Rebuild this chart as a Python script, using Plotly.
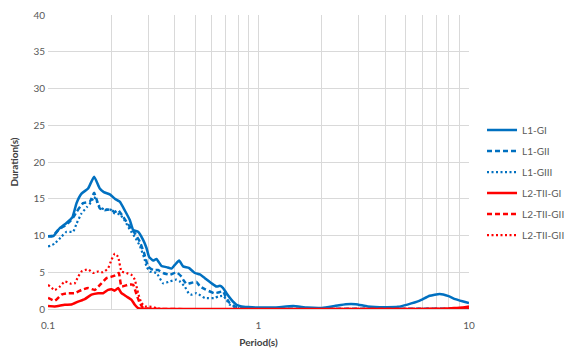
import plotly.graph_objects as go

# ---- data ----
l1_gi_period = [0.1, 0.1057, 0.1138, 0.1224, 0.1307, 0.1366, 0.1443, 0.1551, 0.1656, 0.1762,
                0.1841, 0.1966, 0.2077, 0.2193, 0.2317, 0.2447, 0.2537, 0.2679, 0.283, 0.2937,
                0.3021, 0.3157, 0.3277, 0.3461, 0.3656, 0.3862, 0.4004, 0.4196, 0.4383, 0.4666,
                0.4982, 0.5262, 0.5558, 0.5981, 0.6317, 0.655, 0.679, 0.7047, 0.7443, 0.7862,
                0.8303, 0.8925, 1.0, 1.2, 1.46, 1.7, 2.0, 2.3, 2.6, 2.9, 3.3, 4.0, 4.6, 5.1,
                5.8, 6.5, 7.26, 8.0, 8.6, 9.3, 10.0]
l1_gi_dur = [9.9, 9.9, 11.0, 11.7, 12.5, 14.4, 15.7, 16.4, 18.0, 16.4,
             15.9, 15.6, 15.0, 14.6, 13.4, 12.1, 10.75, 10.5, 9.4, 8.3,
             7.1, 6.6, 6.8, 5.85, 5.7, 5.5, 6.0, 6.6, 5.8, 5.6,
             4.9, 4.7, 4.2, 3.5, 3.05, 3.15, 2.85, 2.15, 1.25, 0.58,
             0.35, 0.27, 0.2, 0.22, 0.4, 0.2, 0.15, 0.4, 0.65, 0.65, 0.35, 0.25, 0.3, 0.6,
             1.1, 1.8, 2.05, 1.75, 1.35, 1.05, 0.8]

l1_gii_period = [0.1, 0.1057, 0.1117, 0.1224, 0.1307, 0.1366, 0.1468, 0.158, 0.1656, 0.1762,
                 0.1861, 0.1966, 0.2077, 0.2153, 0.2274, 0.2447, 0.2584, 0.273, 0.2861, 0.2989,
                 0.3157, 0.3334, 0.3523, 0.3791, 0.4079, 0.4307, 0.4383, 0.455, 0.4717, 0.5076,
                 0.5262, 0.5558, 0.6154, 0.6429, 0.679, 0.697, 0.7306, 0.7716, 0.83, 0.9,
                 1.0, 10.0]
l1_gii_dur = [9.9, 10.0, 10.75, 11.5, 12.3, 13.2, 14.4, 14.6, 15.8, 13.7,
              13.45, 13.55, 13.2, 13.45, 12.55, 11.2, 10.3, 9.15, 7.6, 5.8,
              5.3, 5.3, 4.9, 4.65, 5.0, 4.4, 4.0, 3.4, 3.5, 3.7,
              3.1, 2.7, 2.15, 2.25, 2.4, 1.7, 0.8, 0.35, 0.2, 0.12,
              0.05, 0.05]

l1_giii_period = [0.1, 0.1077, 0.1159, 0.1224, 0.1316, 0.1366, 0.1443, 0.1534, 0.1609, 0.1656,
                  0.1762, 0.1861, 0.1966, 0.2077, 0.2193, 0.2317, 0.2447, 0.2584, 0.273, 0.2861,
                  0.2937, 0.3045, 0.3277, 0.3523, 0.3791, 0.4079, 0.4228, 0.4466, 0.4666, 0.4806,
                  0.5076, 0.5558, 0.6154, 0.6429, 0.679, 0.7047, 0.7306, 0.7574, 0.8, 0.9,
                  1.0, 10.0]
l1_giii_dur = [8.5, 8.9, 9.85, 10.5, 10.5, 11.6, 13.0, 13.9, 14.6, 15.25,
               13.9, 13.5, 13.6, 13.0, 12.9, 12.0, 10.8, 9.8, 8.6, 7.0,
               5.8, 5.1, 4.9, 3.5, 3.75, 4.0, 3.75, 3.05, 2.1, 1.95,
               2.15, 1.5, 1.5, 1.7, 1.8, 1.25, 0.58, 0.35, 0.15, 0.1,
               0.02, 0.02]

l2_gi_period = [0.1, 0.1077, 0.1202, 0.1293, 0.139, 0.1496, 0.1609, 0.173, 0.1827, 0.193,
                0.2003, 0.2077, 0.2153, 0.2235, 0.236, 0.2493, 0.2584, 0.2679, 0.28, 0.3,
                6.0, 7.5, 8.5, 9.3, 10.0]
l2_gi_dur = [0.4, 0.35, 0.58, 0.6, 1.0, 1.35, 1.95, 2.15, 2.15, 2.6,
             2.7, 2.5, 2.85, 2.15, 1.7, 1.25, 0.58, 0.13, 0.02, 0.0,
             0.0, 0.05, 0.12, 0.2, 0.35]

l2_gii_period = [0.1, 0.1077, 0.1159, 0.1246, 0.1341, 0.1443, 0.1551, 0.1669, 0.1795, 0.1896,
                 0.2003, 0.2116, 0.217, 0.2235, 0.2402, 0.2537, 0.2633, 0.273, 0.283, 0.3,
                 0.32, 10.0]
l2_gii_dur = [1.5, 1.12, 1.95, 2.15, 2.15, 2.6, 2.85, 2.6, 3.5, 4.2,
              4.4, 4.65, 4.9, 3.05, 3.3, 3.3, 2.0, 0.8, 0.15, 0.05,
              0.0, 0.0]

l2_giii_period = [0.1, 0.1077, 0.1138, 0.1202, 0.1293, 0.1341, 0.139, 0.1443, 0.1551, 0.1637,
                  0.173, 0.1827, 0.193, 0.2003, 0.2077, 0.2153, 0.2235, 0.236, 0.2493, 0.2584,
                  0.2679, 0.2781, 0.2883, 0.31, 0.3277, 0.35, 10.0]
l2_giii_dur = [3.3, 2.6, 3.05, 3.75, 3.4, 3.5, 4.4, 5.1, 5.4, 4.9,
               5.1, 5.0, 5.55, 6.7, 7.55, 7.1, 5.1, 4.9, 4.65, 4.0,
               2.15, 0.8, 0.35, 0.3, 0.1, 0.0, 0.0]

x_tick_vals = [0.1, 1, 10]
x_tick_text = ["0.1", "1", "10"]

BLUE = "#0070C0"
RED = "#FF0000"
FONT = "Lato"

series = [
    ("L1-GI", l1_gi_period, l1_gi_dur, BLUE, "solid", 2.5),
    ("L1-GII", l1_gii_period, l1_gii_dur, BLUE, "5px,3px", 2.5),
    ("L1-GIII", l1_giii_period, l1_giii_dur, BLUE, "2px,2.5px", 2.2),
    ("L2-TII-GI", l2_gi_period, l2_gi_dur, RED, "solid", 2.5),
    ("L2-TII-GII", l2_gii_period, l2_gii_dur, RED, "5px,3px", 2.5),
    ("L2-TII-GIII", l2_giii_period, l2_giii_dur, RED, "2px,2.5px", 2.2),
]

fig = go.Figure()
for name, xs, ys, col, dash, w in series:
    fig.add_trace(go.Scatter(
        x=xs, y=ys, mode="lines", name=name, legendgroup=name,
        line=dict(color=col, dash=dash, width=w, shape="spline", smoothing=0.4),
    ))

# The page body adds an 8px margin, so the figure is 8px smaller on each axis.
fig.update_layout(
    width=564, height=341,
    margin=dict(l=40, r=103, t=7, b=40, autoexpand=False),
    paper_bgcolor="white", plot_bgcolor="white",
    font=dict(family=FONT, size=10, color="#595959"),
    showlegend=True,
    legend=dict(
        x=1.2447, xanchor="right", y=0.43, yanchor="middle",
        font=dict(family=FONT, size=10, color="#595959"),
        traceorder="grouped", tracegroupgap=2,
        itemwidth=30, bgcolor="rgba(0,0,0,0)",
    ),
)

fig.update_xaxes(
    type="log", range=[-1, 1], automargin=True,
    tickvals=x_tick_vals, ticktext=x_tick_text,
    showgrid=True, gridcolor="#D9D9D9", gridwidth=1,
    minor=dict(dtick="D1", showgrid=True, gridcolor="#D9D9D9", gridwidth=1, ticks=""),
    showline=True, linecolor="#D9D9D9", linewidth=1, mirror=False,
    ticks="", zeroline=False, ticklabelstandoff=7,
    tickfont=dict(family=FONT, size=10, color="#595959"),
    title=dict(text="<b>Period(s)</b>", font=dict(family=FONT, size=10, color="#404040"), standoff=8),
)
fig.update_yaxes(
    range=[0, 40], dtick=5, tick0=0, automargin=True,
    showgrid=True, gridcolor="#D9D9D9", gridwidth=1,
    showline=False, zeroline=False, ticks="", ticklabelstandoff=2,
    tickfont=dict(family=FONT, size=10, color="#595959"),
    title=dict(text="<b>Duration(s)</b>", font=dict(family=FONT, size=10, color="#404040"), standoff=12),
)

fig.write_html("out.html")
